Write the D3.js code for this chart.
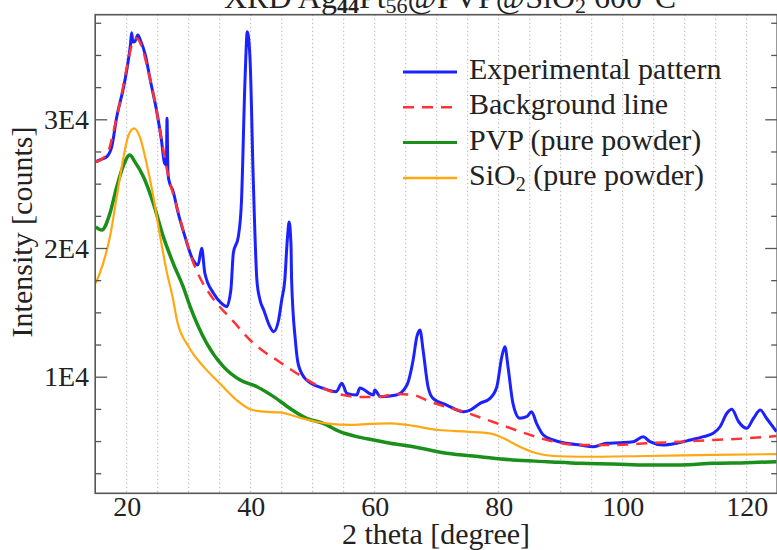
<!DOCTYPE html>
<html><head><meta charset="utf-8">
<script src="https://cdn.jsdelivr.net/npm/d3@7"></script>
<style>body{margin:0;background:#fff}svg{display:block}</style>
</head><body>
<script>
const expTheta=[15.0,16.0,16.8,17.6,18.4,19.5,20.2,20.6,20.8,21.0,21.3,21.8,22.2,23.0,23.8,24.8,25.6,26.1,26.4,26.5,26.65,26.8,27.5,28.3,29.4,30.7,31.5,32.1,32.6,34.0,35.3,36.1,36.8,37.2,38.0,38.5,39.1,39.45,39.9,40.4,41.0,41.5,42.1,43.1,43.7,44.5,45.0,45.5,45.9,46.2,46.5,46.6,47.2,47.7,49.0,51.7,53.8,54.7,55.5,57.1,57.6,59.8,60.0,60.9,63.5,65.2,66.2,66.8,67.3,67.8,68.6,69.4,71.6,74.3,75.4,77.0,78.6,79.7,80.5,81.0,81.5,82.3,83.4,84.5,85.3,86.1,87.2,88.8,90.9,93.1,95.3,97.4,99.6,101.7,103.3,104.4,106.5,108.7,110.9,113.0,114.6,115.7,116.8,117.6,118.7,120.0,121.1,122.2,123.2,124.8];
const expVal=[26700,26900,27100,27900,30200,32500,34400,35770,36730,36000,36030,36550,36160,35000,33050,30720,28390,26600,26450,30080,25900,25280,24380,22720,20880,19070,18680,19980,18060,16480,15700,15440,16740,19610,20880,23500,33310,36810,34610,25540,17510,15960,15180,13890,13500,14410,15960,17510,20620,22020,20230,17510,12850,10910,9740,9100,8840,9490,8710,8580,9120,8580,8970,8450,8580,9360,11300,13110,13630,12080,9220,8320,7800,7280,7410,7930,8320,9220,11550,12330,10780,7930,6770,6890,7280,6380,5470,5080,4830,4690,4560,4830,4870,4950,5340,4950,4690,4830,5080,5340,5600,6110,7160,7470,6500,5990,6770,7410,6770,5730];
const bgTheta=[15.0,16.0,17.0,18.0,19.0,20.0,21.0,21.6,22.5,23.5,24.5,25.5,26.5,28.0,29.4,30.7,32.0,33.5,35.0,37.0,39.9,42.0,44.2,47.4,51.7,54.9,58.0,60.9,63.5,66.2,68.9,74.3,79.7,85.1,87.8,93.1,98.5,103.9,109.3,114.6,120.0,124.8];
const bgVal=[26700,26920,27460,29320,31500,33990,36010,36290,35540,33680,31500,28780,26060,23340,20930,18910,17510,16350,15440,14410,12850,12000,11300,10270,9100,8580,8420,8450,8660,8580,8060,7280,6380,5470,5080,4690,4690,4830,4950,5080,5210,5390];
const pvpTheta=[15.0,16.0,17.3,18.4,19.5,20.5,21.3,22.7,24.3,25.9,27.5,29.1,30.2,32.9,35.6,38.3,41.0,43.7,46.3,49.0,51.7,54.4,57.1,59.8,62.5,66.2,71.6,77.0,82.3,87.8,93.1,98.5,103.9,109.3,114.6,120.0,124.8];
const pvpVal=[21650,21400,22700,24760,26450,27230,26710,25540,23470,20880,18810,16990,15490,12600,10780,9740,9220,8450,7550,6770,6380,5730,5340,5080,4830,4560,4050,3780,3530,3400,3270,3220,3140,3140,3270,3320,3400];
const sioTheta=[15.0,16.2,17.3,18.4,19.5,20.3,21.2,22.2,23.2,24.3,25.4,26.4,27.5,28.1,30.0,32.4,35.0,37.7,39.9,42.1,44.7,47.4,50.6,52.8,56.0,59.2,62.5,65.2,70.3,74.9,78.6,80.8,83.4,86.1,88.8,93.1,103.9,114.6,124.8];
const sioVal=[17260,18810,20880,23990,27100,28780,29300,28520,26580,23990,20880,18290,15960,14410,12330,10780,9490,8190,7470,7280,7230,6890,6500,6330,6250,6330,6380,6250,5860,5730,5600,5210,4560,4050,3840,3780,3840,3920,3990];
const xTicks=[20,40,60,80,100,120];
const yTicks=[10000,20000,30000];
const yTickLabels=["1E4","2E4","3E4"];
const legendLabels=["Experimental pattern","Background line","PVP (pure powder)","SiO\u2082 (pure powder)"];

const FONT="Liberation Serif";
const W=777,H=550;
const svg=d3.select("body").append("svg").attr("width",W).attr("height",H);
const L=95.2,R=777.2,T=14.7,B=493.3;
const x=d3.scaleLinear().domain([15,125]).range([95.7,777.7]);
const y=d3.scaleLinear().domain([10000,30000]).range([376.7,119.3]);

// grid
const grid=d3.range(20,125,5);
svg.append("g").selectAll("line").data(grid).join("line")
 .attr("x1",d=>x(d)).attr("x2",d=>x(d)).attr("y1",T).attr("y2",B)
 .attr("stroke","#b8b8b8").attr("stroke-width",1).attr("stroke-dasharray","1.5,2.5");

svg.append("clipPath").attr("id","c").append("rect").attr("x",L).attr("y",T).attr("width",R-L).attr("height",B-T);
const g=svg.append("g").attr("clip-path","url(#c)");
const line=(th,v)=>d3.line().x((d,i)=>x(th[i])).y((d,i)=>y(v[i])).curve(d3.curveMonotoneX)(v);

g.append("path").attr("d",line(pvpTheta,pvpVal)).attr("fill","none").attr("stroke","#1a8f1a").attr("stroke-width",3.5).attr("stroke-linejoin","round");
g.append("path").attr("d",line(sioTheta,sioVal)).attr("fill","none").attr("stroke","#ffa812").attr("stroke-width",2.2);
g.append("path").attr("d",line(expTheta,expVal)).attr("fill","none").attr("stroke","#1c22ff").attr("stroke-width",3).attr("stroke-linejoin","round");
g.append("path").attr("d",line(bgTheta,bgVal)).attr("fill","none").attr("stroke","#ff3333").attr("stroke-width",2.5).attr("stroke-dasharray","11,8");

// frame
svg.append("rect").attr("x",L).attr("y",T).attr("width",R-L).attr("height",B-T).attr("fill","none").attr("stroke","#555").attr("stroke-width",1.6);

// y axis ticks (inward)
const minor=[2500,5000,7500,12500,15000,17500,22500,25000,27500,32500,35000,37500];
[[d3.axisRight(y).tickValues(yTicks).tickSize(12),L],[d3.axisRight(y).tickValues(minor).tickSize(6),L],
 [d3.axisLeft(y).tickValues(yTicks).tickSize(12),R],[d3.axisLeft(y).tickValues(minor).tickSize(6),R]].forEach(([a,px])=>{
  const ga=svg.append("g").attr("transform",`translate(${px},0)`).call(a.tickFormat(""));
  ga.select(".domain").remove();
  ga.selectAll("line").attr("stroke","#555").attr("stroke-width",1.3);
});

// y tick labels
svg.append("g").selectAll("text").data(yTicks).join("text")
 .attr("x",89).attr("y",d=>y(d)).attr("dy","0.34em").attr("text-anchor","end")
 .attr("font-family",FONT).attr("font-size",28).attr("fill","#222").text((d,i)=>yTickLabels[i]);
// x tick labels
const xa=svg.append("g").attr("transform",`translate(0,${B})`).call(d3.axisBottom(x).tickValues(xTicks).tickSize(0).tickPadding(0));
xa.attr("font-family",FONT).attr("font-size",28);
xa.select(".domain").remove();
xa.selectAll("text").attr("dy",null).attr("y",22.5).attr("fill","#222").attr("font-family",FONT);

// axis titles
svg.append("text").attr("x",436).attr("y",543.5).attr("text-anchor","middle").attr("font-family",FONT).attr("font-size",30).attr("fill","#222").text("2 theta [degree]");
svg.append("text").attr("transform","translate(32,232) rotate(-90)").attr("text-anchor","middle").attr("font-family",FONT).attr("font-size",30).attr("fill","#222").text("Intensity [counts]");

// title (cut at top, as in the reference)
const t=svg.append("text").attr("x",224).attr("y",8).attr("font-family",FONT).attr("font-size",32).attr("fill","#222");
t.append("tspan").text("XRD Ag");
t.append("tspan").attr("font-size",22).attr("font-weight","bold").attr("dy",5).text("44");
t.append("tspan").attr("dy",-5).text("Pt");
t.append("tspan").attr("font-size",22).attr("dy",5).text("56");
t.append("tspan").attr("dy",-5).text("@PVP@SiO");
t.append("tspan").attr("font-size",22).attr("dy",5).text("2");
t.append("tspan").attr("dy",-5).text(" 600°C");

// legend
const lc=[{c:"#1c22ff",d:null,w:3},{c:"#ff3333",d:"11,8",w:2.5},{c:"#1a8f1a",d:null,w:3},{c:"#ffa812",d:null,w:2.5}];
const lg=svg.append("g");
legendLabels.forEach((lab,i)=>{
  const by=79+i*35.3;
  lg.append("line").attr("x1",403).attr("x2",457).attr("y1",by-7).attr("y2",by-7).attr("stroke",lc[i].c).attr("stroke-width",lc[i].w).attr("stroke-dasharray",lc[i].d);
  const tx=lg.append("text").attr("x",469).attr("y",by).attr("font-family",FONT).attr("font-size",30).attr("fill","#222");
  if(i===3){tx.append("tspan").text("SiO");tx.append("tspan").attr("font-size",20).attr("dy",6).text("2");tx.append("tspan").attr("dy",-6).text(" (pure powder)");}
  else tx.text(lab);
});
</script>
</body></html>
